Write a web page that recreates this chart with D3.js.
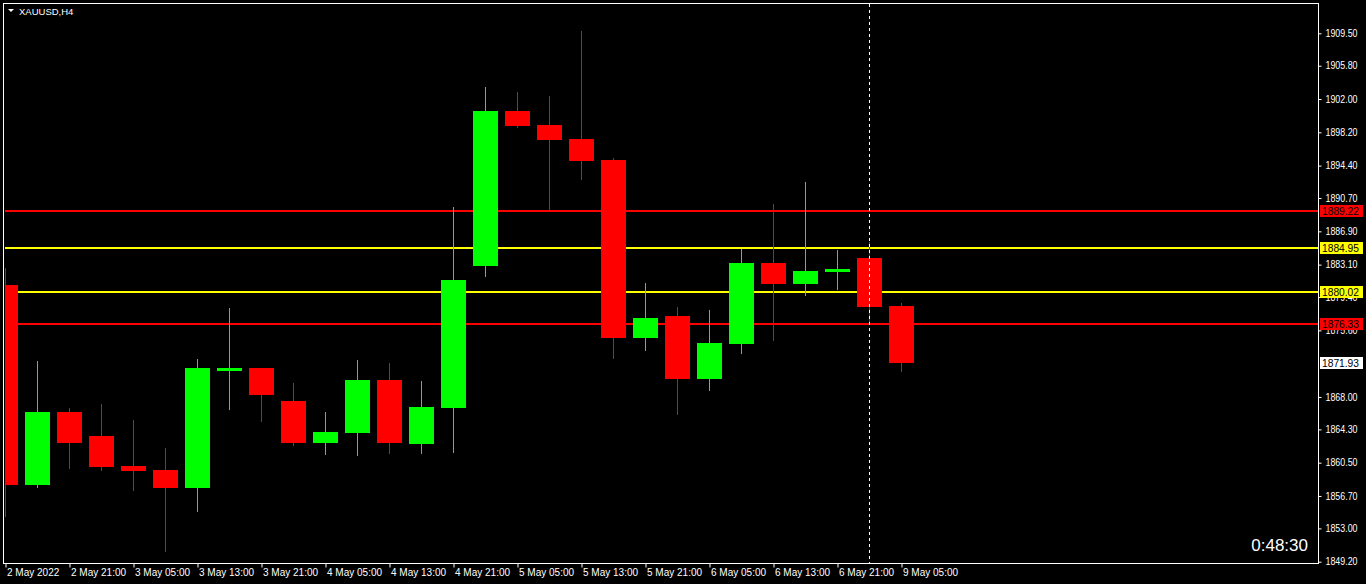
<!DOCTYPE html>
<html><head><meta charset="utf-8">
<script src="https://cdn.jsdelivr.net/npm/d3@7"></script>
<style>
html,body{margin:0;padding:0;background:#000;overflow:hidden}
svg{display:block}
text{font-family:"Liberation Sans",Arial,sans-serif}
</style></head><body>
<svg id="c" width="1366" height="584"></svg>
<script>
// ---- data ----
const symbolTitle = "XAUUSD,H4";
const barTimes = ["2 May 13:00","2 May 17:00","2 May 21:00","3 May 01:00","3 May 05:00","3 May 09:00","3 May 13:00","3 May 17:00","3 May 21:00","4 May 01:00","4 May 05:00","4 May 09:00","4 May 13:00","4 May 17:00","4 May 21:00","5 May 01:00","5 May 05:00","5 May 09:00","5 May 13:00","5 May 17:00","5 May 21:00","6 May 01:00","6 May 05:00","6 May 09:00","6 May 13:00","6 May 17:00","6 May 21:00","9 May 01:00","9 May 05:00"];
const opens  = [1880.78,1857.99,1866.28,1863.55,1860.12,1859.67,1857.61,1870.95,1871.31,1867.54,1862.75,1863.89,1869.94,1862.63,1866.78,1882.95,1900.63,1899.04,1897.44,1895.04,1874.73,1877.24,1870.05,1874.04,1883.29,1880.89,1882.26,1883.86,1878.38];
const highs  = [1882.72,1872.10,1866.74,1867.20,1865.37,1862.18,1872.33,1878.15,1871.31,1869.59,1866.28,1872.22,1871.88,1869.82,1889.68,1903.37,1902.80,1902.34,1909.76,1895.27,1881.01,1878.27,1877.92,1884.89,1890.02,1892.53,1884.77,1885.68,1878.72];
const lows   = [1854.42,1857.76,1859.93,1859.67,1857.38,1850.46,1854.99,1866.66,1865.29,1862.52,1861.49,1861.38,1861.61,1861.61,1861.75,1881.80,1898.81,1889.45,1892.87,1872.45,1873.36,1866.06,1868.79,1873.02,1874.50,1879.64,1880.32,1876.33,1870.96];
const closes = [1857.95,1866.28,1862.75,1860.01,1859.55,1857.61,1871.31,1871.30,1868.22,1862.75,1864.00,1869.94,1862.75,1866.85,1881.35,1900.63,1898.92,1897.32,1894.93,1874.73,1877.01,1870.05,1874.16,1883.29,1880.89,1882.37,1882.60,1878.27,1871.93];
const timeTickIndex = [0,2,4,6,8,10,12,14,16,18,20,22,24,26,28];
const timeTickLabels = ["2 May 2022","2 May 21:00","3 May 05:00","3 May 13:00","3 May 21:00","4 May 05:00","4 May 13:00","4 May 21:00","5 May 05:00","5 May 13:00","5 May 21:00","6 May 05:00","6 May 13:00","6 May 21:00","9 May 05:00"];
const priceTicks = [1909.50,1905.80,1902.00,1898.20,1894.40,1890.70,1886.90,1883.10,1879.40,1875.60,1868.00,1864.30,1860.50,1856.70,1853.00,1849.20];
const levelPrices = [1889.22,1884.95,1880.02,1876.33];
const levelColors = ["#ff0000","#ffff00","#ffff00","#ff0000"];
const bidPrice = 1871.93;
const separatorTime = "9 May 01:00";
const timerText = "0:48:30";

// ---- layout ----
const L = 4, T = 4, R = 1318, B = 563;
const svg = d3.select("#c");
svg.append("rect").attr("width",1366).attr("height",584).attr("fill","#000");

const x = d3.scalePoint().domain(barTimes).range([5, 901]);
const y = d3.scaleLinear().domain([1849.2, 1909.5]).range([561.7, 33.3]);

const plot = svg.append("g");
svg.append("clipPath").attr("id","pc").append("rect")
  .attr("x",L+1).attr("y",T+1).attr("width",R-L-1).attr("height",B-T-1);
plot.attr("clip-path","url(#pc)");

// level lines
plot.selectAll("line.lvl").data(levelPrices).enter().append("line")
  .attr("x1",L).attr("x2",R)
  .attr("y1",d=>Math.round(y(d))).attr("y2",d=>Math.round(y(d)))
  .attr("stroke",(d,i)=>levelColors[i]).attr("stroke-width",2);

// period separator
svg.append("line")
  .attr("x1",x(separatorTime)+0.5).attr("x2",x(separatorTime)+0.5)
  .attr("y1",T).attr("y2",B)
  .attr("stroke","#fff").attr("stroke-width",1).attr("stroke-dasharray","3,3");

// candles
const bars = barTimes.map((t,i)=>({t,o:opens[i],h:highs[i],l:lows[i],c:closes[i]}));
const col = d => d.c >= d.o ? "#00ff00" : "#ff0000";
const cg = plot.selectAll("g.cd").data(bars).enter().append("g");
cg.append("line")
  .attr("x1",d=>x(d.t)+0.5).attr("x2",d=>x(d.t)+0.5)
  .attr("y1",d=>Math.round(y(d.h))).attr("y2",d=>Math.round(y(d.l))+1)
  .attr("stroke",col).attr("stroke-width",1);
cg.append("rect")
  .attr("x",d=>x(d.t)-12).attr("width",25)
  .attr("y",d=>Math.round(y(Math.max(d.o,d.c))))
  .attr("height",d=>Math.max(2,Math.round(y(Math.min(d.o,d.c)))-Math.round(y(Math.max(d.o,d.c)))))
  .attr("fill",col);

// frame
svg.append("rect").attr("x",L-0.5).attr("y",T-0.5).attr("width",R-L+1).attr("height",B-T+1)
  .attr("fill","none").attr("stroke","#fff").attr("stroke-width",1);

// right axis
const ya = d3.axisRight(y).tickValues(priceTicks).tickSize(3).tickPadding(4).tickFormat(d3.format(".2f"));
const yg = svg.append("g").attr("transform",`translate(${R+0.5},0)`).call(ya);
yg.select(".domain").remove();
yg.selectAll("line").attr("stroke","#fff");
yg.selectAll("text").attr("fill","#fff").attr("font-size","10px")
  .attr("textLength",32).attr("lengthAdjust","spacingAndGlyphs")
  .attr("font-family","Liberation Sans, Arial, sans-serif");

// bottom axis
const xa = d3.axisBottom(x).tickValues(timeTickIndex.map(i=>barTimes[i]))
  .tickSize(4).tickFormat((d,i)=>timeTickLabels[i]);
const xg = svg.append("g").attr("transform",`translate(0.5,${B+0.5})`).call(xa);
xg.select(".domain").remove();
xg.selectAll("line").attr("stroke","#fff");
xg.selectAll("text").attr("fill","#fff").attr("font-size","10px").attr("text-anchor","start")
  .attr("x",1).attr("dy","0.55em").attr("font-family","Liberation Sans, Arial, sans-serif");

// price labels on axis
const tags = levelPrices.map((p,i)=>({p,c:levelColors[i]})).concat([{p:bidPrice,c:"#ffffff"}]);
const tg = svg.selectAll("g.tag").data(tags).enter().append("g");
tg.append("rect").attr("x",R+2).attr("width",43)
  .attr("y",d=>Math.round(y(d.p))-6).attr("height",12).attr("fill",d=>d.c);
tg.append("text").attr("x",R+4).attr("y",d=>Math.round(y(d.p))+4)
  .attr("font-size","10.5px").attr("fill","#000")
  .attr("textLength",37).attr("lengthAdjust","spacingAndGlyphs")
  .text(d=>d.p.toFixed(2));

// title
svg.append("path").attr("d","M8,9 L14,9 L11,12 Z").attr("fill","#fff");
svg.append("text").attr("x",19).attr("y",15).attr("fill","#fff").attr("font-size","9.5px").text(symbolTitle);

// timer
svg.append("text").attr("x",1308).attr("y",551).attr("text-anchor","end")
  .attr("fill","#fff").attr("font-size","17px").text(timerText);
</script>
</body></html>
